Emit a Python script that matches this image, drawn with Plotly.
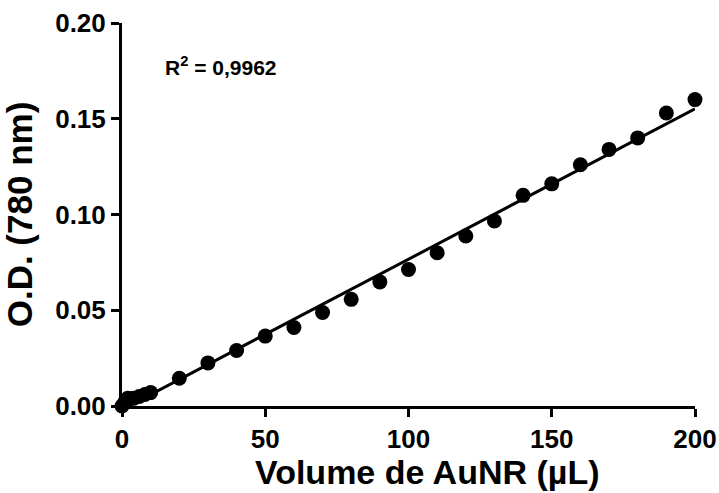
import numpy as np
import plotly.graph_objects as go

volume = [0, 1, 2, 4, 6, 8, 10, 20, 30, 40, 50, 60, 70, 80, 90, 100,
          110, 120, 130, 140, 150, 160, 170, 180, 190, 200]
od = [0.000, 0.002, 0.004, 0.004, 0.005, 0.006, 0.007, 0.0145, 0.0225, 0.029, 0.0365,
      0.041, 0.0488, 0.0557, 0.0648, 0.0713, 0.080, 0.0888, 0.0966, 0.110,
      0.116, 0.126, 0.134, 0.140, 0.153, 0.160]
x_ticks = [0, 50, 100, 150, 200]
y_ticks = [0.00, 0.05, 0.10, 0.15, 0.20]
r2_text = "R<sup>2</sup> = 0,9962"
x_title = "Volume de AuNR (µL)"
y_title = "O.D. (780 nm)"

slope, intercept = np.polyfit(volume, od, 1)
fit_x = [0, 200]
fit_y = [intercept + slope * v for v in fit_x]

font_family = "Liberation Sans, Arial, sans-serif"

fig = go.Figure()
fig.add_trace(go.Scatter(x=fit_x, y=fit_y, mode="lines",
                         line=dict(color="black", width=3),
                         cliponaxis=False, showlegend=False))
fig.add_trace(go.Scatter(x=volume, y=od, mode="markers",
                         marker=dict(color="black", size=15),
                         cliponaxis=False, showlegend=False))

fig.add_annotation(x=0.072, y=0.888, xref="paper", yref="paper",
                   xanchor="left", yanchor="middle", showarrow=False,
                   text="<b>" + r2_text + "</b>",
                   font=dict(family=font_family, size=21, color="black"))

# x-axis title (slightly right of the axis centre, as in the original)
fig.add_annotation(x=0.533, y=-0.226, xref="paper", yref="paper",
                   xanchor="center", yanchor="bottom", showarrow=False,
                   text="<b>" + x_title + "</b>",
                   font=dict(family=font_family, size=34, color="black"))

axis_common = dict(showgrid=False, zeroline=False, showline=True,
                   linecolor="black", linewidth=3, ticks="outside",
                   ticklen=8, tickwidth=3, tickcolor="black",
                   automargin=False,
                   tickfont=dict(family=font_family, size=26, color="black"))

fig.update_xaxes(range=[0, 200], tickvals=x_ticks,
                 ticktext=["<b>%d</b>" % v for v in x_ticks],
                 **axis_common)
fig.update_yaxes(range=[0, 0.20], tickvals=y_ticks,
                 ticktext=["<b>%.2f</b>" % v for v in y_ticks],
                 title=dict(text="<b>" + y_title + "</b>",
                            font=dict(family=font_family, size=35, color="black"),
                            standoff=14),
                 **axis_common)

fig.update_layout(width=719, height=493,
                  margin=dict(l=122, r=24, t=23, b=87),
                  plot_bgcolor="white", paper_bgcolor="white")

fig.write_html("out.html")
